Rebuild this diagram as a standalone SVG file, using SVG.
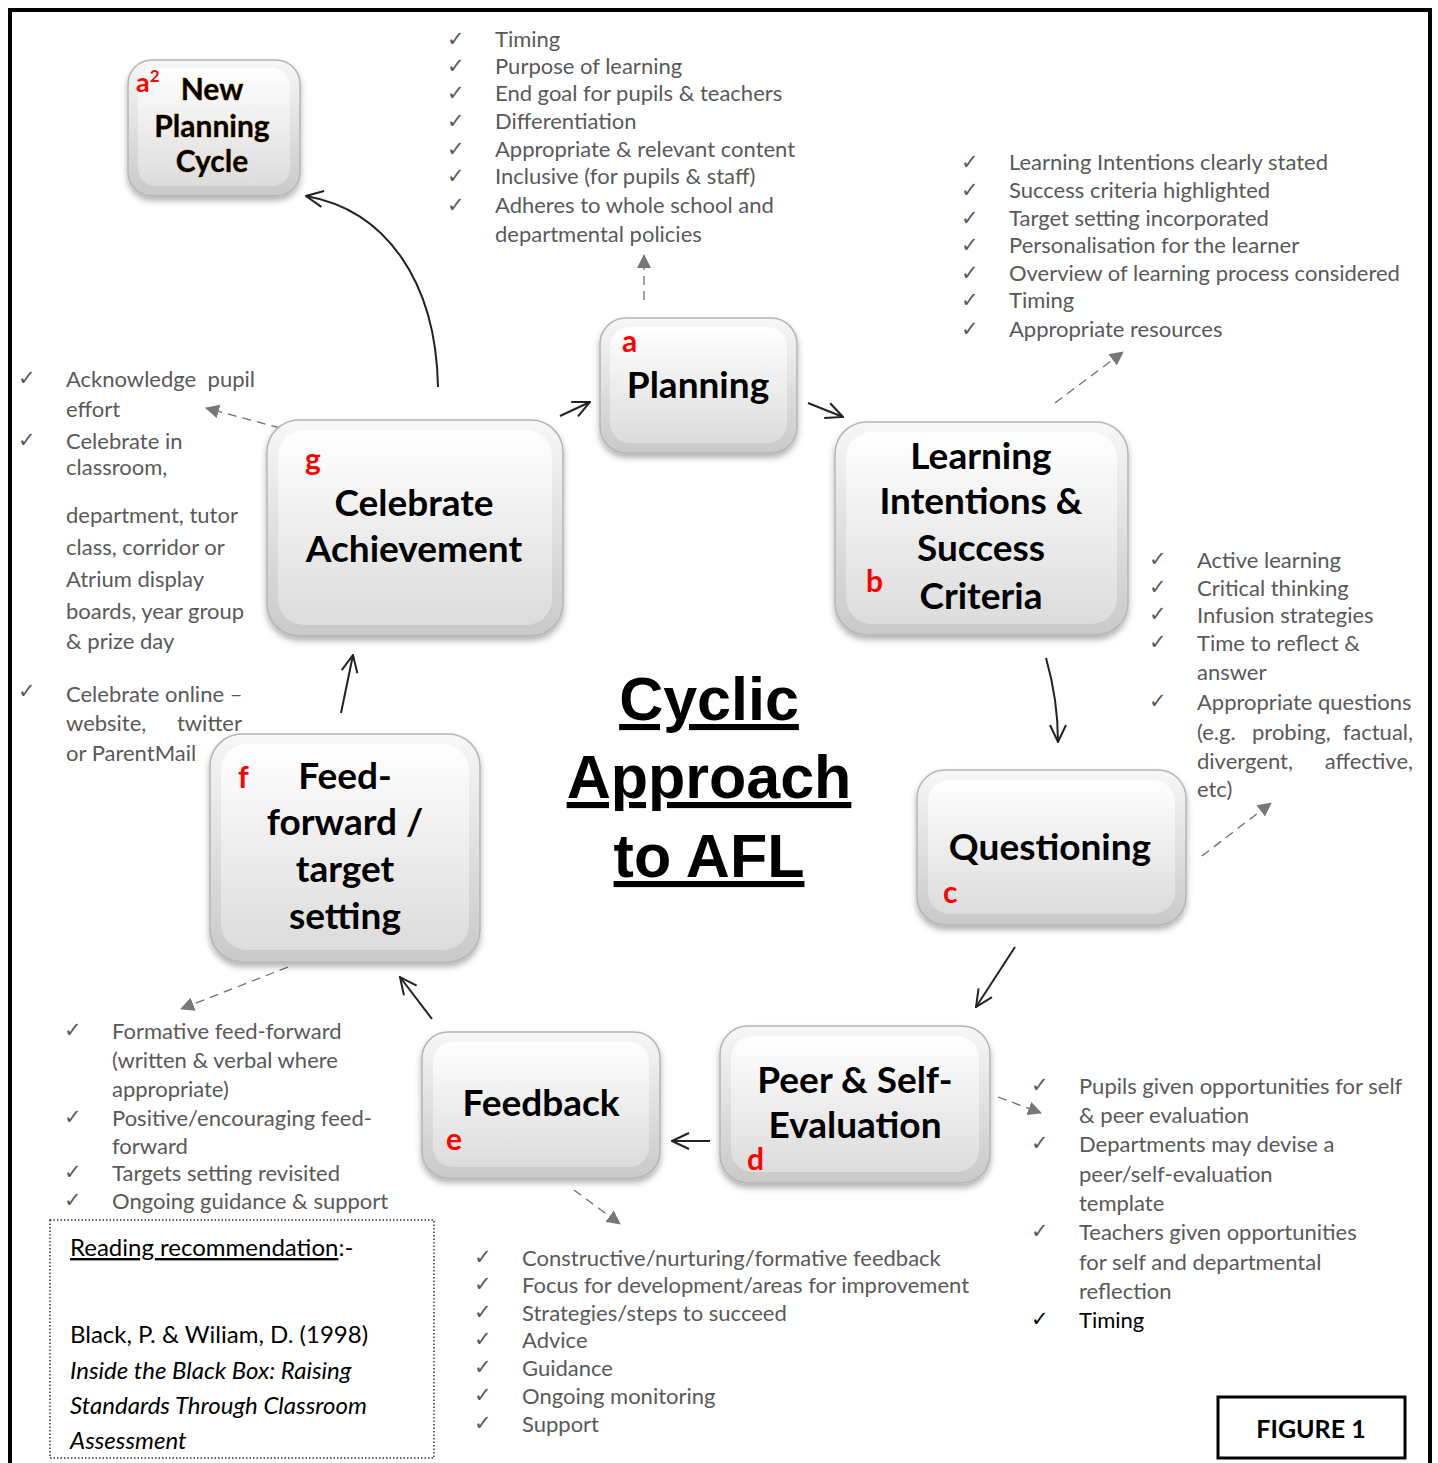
<svg xmlns="http://www.w3.org/2000/svg" width="1438" height="1463" viewBox="0 0 1438 1463">
<style>
.lst{font-family:Lato,"Liberation Sans",sans-serif;font-size:22px;fill:#595959}
.ck{font-family:"DejaVu Sans",sans-serif;font-size:21px;fill:#595959}
.nt{font-family:Lato,"Liberation Sans",sans-serif;font-weight:bold;font-size:37px;fill:#000;text-anchor:middle}
.rl{font-family:Lato,"Liberation Sans",sans-serif;font-weight:bold;font-size:30px;fill:#ff0000}
.ttl{font-family:"Liberation Sans",Arial,sans-serif;font-weight:bold;font-size:61px;fill:#000;text-anchor:middle;text-decoration:underline}
.rd{font-family:Lato,"Liberation Sans",sans-serif;font-size:24px;fill:#000}
.box{fill:url(#gOut);stroke:#b5b5b5;stroke-width:1.5;filter:url(#sh)}
.inr{fill:url(#gIn)}
.con{fill:none;stroke:#222;stroke-width:2}
.dsh{fill:none;stroke:#6e6e6e;stroke-width:1.3;stroke-dasharray:9 6}
.end{text-anchor:end}
.nw{font-size:30px;stroke:#d49a4a;stroke-width:0.8;paint-order:stroke}
</style>
<defs>
<linearGradient id="gOut" x1="0" y1="0" x2="0" y2="1">
<stop offset="0" stop-color="#f7f7f7"/><stop offset="1" stop-color="#c9c9c9"/>
</linearGradient>
<linearGradient id="gIn" x1="0" y1="0" x2="0" y2="1">
<stop offset="0" stop-color="#ffffff"/><stop offset="1" stop-color="#dcdcdc"/>
</linearGradient>
<filter id="sh" x="-10%" y="-10%" width="120%" height="130%">
<feDropShadow dx="0" dy="4" stdDeviation="3" flood-color="#000" flood-opacity="0.3"/>
</filter>
<marker id="openL" viewBox="0 0 20 20" refX="19" refY="10" markerWidth="20" markerHeight="20" markerUnits="userSpaceOnUse" orient="auto">
<path d="M2,2 L19,10 L2,18" fill="none" stroke="#222" stroke-width="2"/>
</marker>
<marker id="tri" viewBox="0 0 14 14" refX="13" refY="7" markerWidth="14" markerHeight="14" markerUnits="userSpaceOnUse" orient="auto">
<path d="M0,0 L14,7 L0,14 Z" fill="#777"/>
</marker>
</defs>
<rect x="0" y="0" width="1438" height="1463" fill="#fff"/>
<rect x="10" y="10" width="1420" height="1520" fill="none" stroke="#000" stroke-width="4"/>

<g id="connectors">
<line class="con" x1="560" y1="416" x2="590" y2="402" marker-end="url(#openL)"/>
<line class="con" x1="808" y1="403" x2="843" y2="417" marker-end="url(#openL)"/>
<path class="con" d="M1046,658 Q1058,700 1058,742" marker-end="url(#openL)"/>
<line class="con" x1="1015" y1="947" x2="976" y2="1007" marker-end="url(#openL)"/>
<line class="con" x1="710" y1="1141" x2="672" y2="1141" marker-end="url(#openL)"/>
<line class="con" x1="432" y1="1019" x2="400" y2="977" marker-end="url(#openL)"/>
<line class="con" x1="341" y1="713" x2="353" y2="655" marker-end="url(#openL)"/>
<path class="con" d="M438,387 C436,280 385,210 306,196" marker-end="url(#openL)"/>
<line class="dsh" x1="644" y1="300" x2="644" y2="255" stroke-dasharray="3 12" marker-end="url(#tri)"/>
<line class="dsh" x1="1055" y1="403" x2="1123" y2="352" marker-end="url(#tri)"/>
<line class="dsh" x1="1202" y1="856" x2="1271" y2="803" marker-end="url(#tri)"/>
<line class="dsh" x1="998" y1="1097" x2="1041" y2="1113" marker-end="url(#tri)"/>
<line class="dsh" x1="574" y1="1190" x2="620" y2="1224" marker-end="url(#tri)"/>
<line class="dsh" x1="288" y1="967" x2="181" y2="1009" marker-end="url(#tri)"/>
<line class="dsh" x1="280" y1="428" x2="206" y2="408" marker-end="url(#tri)"/>
</g>

<g id="node-a2">
<rect class="box" x="128" y="60" width="172" height="136" rx="24"/>
<rect class="inr" x="138" y="68" width="152" height="118" rx="18"/>
<text class="nt nw" x="212" y="100">New</text>
<text class="nt nw" x="212" y="137">Planning</text>
<text class="nt nw" x="212" y="172">Cycle</text>
<text class="rl" x="136" y="92" style="font-size:27px">a<tspan style="font-size:17px" dy="-10">2</tspan></text>
</g>

<g id="node-a">
<rect class="box" x="600" y="318" width="197" height="135" rx="26"/>
<rect class="inr" x="610" y="327" width="177" height="116" rx="20"/>
<text class="rl" x="622" y="352">a</text>
<text class="nt" x="698" y="398">Planning</text>
</g>

<g id="node-b">
<rect class="box" x="835" y="422" width="293" height="213" rx="32"/>
<rect class="inr" x="846" y="432" width="271" height="192" rx="26"/>
<text class="nt" x="981" y="469">Learning</text>
<text class="nt" x="981" y="514">Intentions &amp;</text>
<text class="nt" x="981" y="561">Success</text>
<text class="nt" x="981" y="609">Criteria</text>
<text class="rl" x="866" y="592">b</text>
</g>

<g id="node-c">
<rect class="box" x="917" y="770" width="269" height="155" rx="28"/>
<rect class="inr" x="928" y="780" width="247" height="134" rx="22"/>
<text class="nt" x="1050" y="860">Questioning</text>
<text class="rl" x="943" y="903">c</text>
</g>

<g id="node-d">
<rect class="box" x="720" y="1026" width="270" height="157" rx="28"/>
<rect class="inr" x="731" y="1036" width="248" height="136" rx="22"/>
<text class="nt" x="855" y="1093">Peer &amp; Self-</text>
<text class="nt" x="855" y="1138">Evaluation</text>
<text class="rl" x="747" y="1170">d</text>
</g>

<g id="node-e">
<rect class="box" x="422" y="1032" width="238" height="146" rx="26"/>
<rect class="inr" x="433" y="1042" width="216" height="125" rx="20"/>
<text class="nt" x="541" y="1116">Feedback</text>
<text class="rl" x="446" y="1150">e</text>
</g>

<g id="node-f">
<rect class="box" x="210" y="734" width="270" height="228" rx="32"/>
<rect class="inr" x="221" y="744" width="248" height="206" rx="26"/>
<text class="nt" x="345" y="789">Feed-</text>
<text class="nt" x="345" y="835">forward /</text>
<text class="nt" x="345" y="882">target</text>
<text class="nt" x="345" y="929">setting</text>
<text class="rl" x="238" y="788">f</text>
</g>

<g id="node-g">
<rect class="box" x="267" y="420" width="296" height="216" rx="32"/>
<rect class="inr" x="278" y="430" width="274" height="195" rx="26"/>
<text class="rl" x="305" y="470">g</text>
<text class="nt" x="414" y="516">Celebrate</text>
<text class="nt" x="414" y="562">Achievement</text>
</g>

<g id="title">
<text class="ttl" x="709" y="720">Cyclic</text>
<text class="ttl" x="709" y="798">Approach</text>
<text class="ttl" x="709" y="877">to AFL</text>
</g>

<g id="list-a">
<text class="ck" x="447" y="46">✓</text><text class="lst" x="495" y="47">Timing</text>
<text class="ck" x="447" y="73">✓</text><text class="lst" x="495" y="74">Purpose of learning</text>
<text class="ck" x="447" y="100">✓</text><text class="lst" x="495" y="101">End goal for pupils &amp; teachers</text>
<text class="ck" x="447" y="128">✓</text><text class="lst" x="495" y="129">Differentiation</text>
<text class="ck" x="447" y="156">✓</text><text class="lst" x="495" y="157">Appropriate &amp; relevant content</text>
<text class="ck" x="447" y="183">✓</text><text class="lst" x="495" y="184">Inclusive (for pupils &amp; staff)</text>
<text class="ck" x="447" y="212">✓</text><text class="lst" x="495" y="213">Adheres to whole school and</text>
<text class="lst" x="495" y="242">departmental policies</text>
</g>

<g id="list-b">
<text class="ck" x="961" y="169">✓</text><text class="lst" x="1009" y="170">Learning Intentions clearly stated</text>
<text class="ck" x="961" y="197">✓</text><text class="lst" x="1009" y="198">Success criteria highlighted</text>
<text class="ck" x="961" y="225">✓</text><text class="lst" x="1009" y="226">Target setting incorporated</text>
<text class="ck" x="961" y="252">✓</text><text class="lst" x="1009" y="253">Personalisation for the learner</text>
<text class="ck" x="961" y="280">✓</text><text class="lst" x="1009" y="281">Overview of learning process considered</text>
<text class="ck" x="961" y="307">✓</text><text class="lst" x="1009" y="308">Timing</text>
<text class="ck" x="961" y="336">✓</text><text class="lst" x="1009" y="337">Appropriate resources</text>
</g>

<g id="list-c">
<text class="ck" x="1149" y="566">✓</text><text class="lst" x="1197" y="568">Active learning</text>
<text class="ck" x="1149" y="594">✓</text><text class="lst" x="1197" y="596">Critical thinking</text>
<text class="ck" x="1149" y="621">✓</text><text class="lst" x="1197" y="623">Infusion strategies</text>
<text class="ck" x="1149" y="649">✓</text><text class="lst" x="1197" y="651">Time to reflect &amp;</text>
<text class="lst" x="1197" y="680">answer</text>
<text class="ck" x="1149" y="708">✓</text><text class="lst" x="1197" y="710">Appropriate questions</text>
<text class="lst" x="1197" y="740">(e.g.</text><text class="lst" x="1252" y="740">probing,</text><text class="lst end" x="1413" y="740">factual,</text>
<text class="lst" x="1197" y="769">divergent,</text><text class="lst end" x="1413" y="769">affective,</text>
<text class="lst" x="1197" y="797">etc)</text>
</g>

<g id="list-d">
<text class="ck" x="1031" y="1092">✓</text><text class="lst" x="1079" y="1094">Pupils given opportunities for self</text>
<text class="lst" x="1079" y="1123">&amp; peer evaluation</text>
<text class="ck" x="1031" y="1150">✓</text><text class="lst" x="1079" y="1152">Departments may devise a</text>
<text class="lst" x="1079" y="1182">peer/self-evaluation</text>
<text class="lst" x="1079" y="1211">template</text>
<text class="ck" x="1031" y="1238">✓</text><text class="lst" x="1079" y="1240">Teachers given opportunities</text>
<text class="lst" x="1079" y="1270">for self and departmental</text>
<text class="lst" x="1079" y="1299">reflection</text>
<text class="ck" x="1031" y="1326" style="fill:#000">✓</text><text class="lst" x="1079" y="1328" style="fill:#000">Timing</text>
</g>

<g id="list-e">
<text class="ck" x="474" y="1264">✓</text><text class="lst" x="522" y="1266">Constructive/nurturing/formative feedback</text>
<text class="ck" x="474" y="1291">✓</text><text class="lst" x="522" y="1293">Focus for development/areas for improvement</text>
<text class="ck" x="474" y="1319">✓</text><text class="lst" x="522" y="1321">Strategies/steps to succeed</text>
<text class="ck" x="474" y="1346">✓</text><text class="lst" x="522" y="1348">Advice</text>
<text class="ck" x="474" y="1374">✓</text><text class="lst" x="522" y="1376">Guidance</text>
<text class="ck" x="474" y="1402">✓</text><text class="lst" x="522" y="1404">Ongoing monitoring</text>
<text class="ck" x="474" y="1430">✓</text><text class="lst" x="522" y="1432">Support</text>
</g>

<g id="list-f">
<text class="ck" x="64" y="1037">✓</text><text class="lst" x="112" y="1039">Formative feed-forward</text>
<text class="lst" x="112" y="1068">(written &amp; verbal where</text>
<text class="lst" x="112" y="1097">appropriate)</text>
<text class="ck" x="64" y="1124">✓</text><text class="lst" x="112" y="1126">Positive/encouraging feed-</text>
<text class="lst" x="112" y="1154">forward</text>
<text class="ck" x="64" y="1179">✓</text><text class="lst" x="112" y="1181">Targets setting revisited</text>
<text class="ck" x="64" y="1207">✓</text><text class="lst" x="112" y="1209">Ongoing guidance &amp; support</text>
</g>

<g id="list-g">
<text class="ck" x="18" y="385">✓</text><text class="lst" x="66" y="387">Acknowledge</text><text class="lst end" x="255" y="387">pupil</text>
<text class="lst" x="66" y="417">effort</text>
<text class="ck" x="18" y="447">✓</text><text class="lst" x="66" y="449">Celebrate in</text>
<text class="lst" x="66" y="475">classroom,</text>
<text class="lst" x="66" y="523">department, tutor</text>
<text class="lst" x="66" y="555">class, corridor or</text>
<text class="lst" x="66" y="587">Atrium display</text>
<text class="lst" x="66" y="619">boards, year group</text>
<text class="lst" x="66" y="649">&amp; prize day</text>
<text class="ck" x="18" y="698">✓</text><text class="lst" x="66" y="702">Celebrate online –</text>
<text class="lst" x="66" y="731">website,</text><text class="lst end" x="242" y="731">twitter</text>
<text class="lst" x="66" y="761">or ParentMail</text>
</g>

<g id="reading">
<rect x="50" y="1220" width="384" height="238" fill="none" stroke="#333" stroke-width="1.5" stroke-dasharray="1.5 2"/>
<text class="rd" x="70" y="1256"><tspan text-decoration="underline">Reading recommendation</tspan>:-</text>
<text class="rd" x="70" y="1343">Black, P. &amp; Wiliam, D. (1998)</text>
<text class="rd" x="70" y="1379" font-style="italic">Inside the Black Box: Raising</text>
<text class="rd" x="70" y="1414" font-style="italic">Standards Through Classroom</text>
<text class="rd" x="70" y="1449" font-style="italic">Assessment</text>
</g>

<g id="figure-label">
<rect x="1218" y="1397" width="187" height="61" fill="#fff" stroke="#000" stroke-width="3"/>
<text x="1311" y="1438" text-anchor="middle" font-family="Lato,'Liberation Sans',sans-serif" font-weight="bold" font-size="25" fill="#000">FIGURE 1</text>
</g>
</svg>
